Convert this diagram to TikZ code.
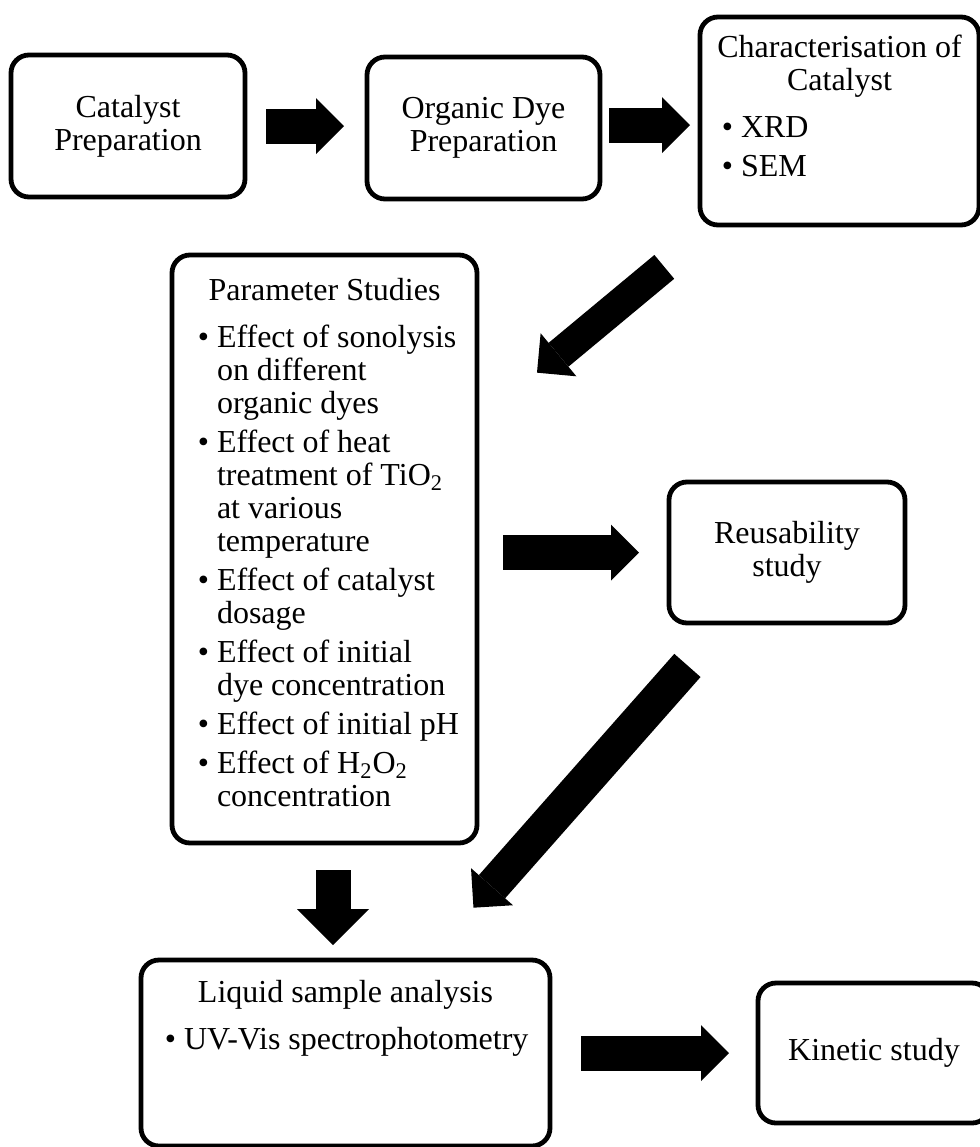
\documentclass[tikz,border=0pt]{standalone}
\usepackage{fontspec}
\setmainfont{Liberation Serif}
\usepackage{enumitem}
\usetikzlibrary{arrows.meta}
\setlist[itemize]{label=\textbullet,labelsep=4pt,topsep=7pt,partopsep=0pt,parsep=0pt,itemsep=3pt}
\newcommand{\stepbody}[4]{\parbox[c][#2][t]{#1}{\raggedright\vspace*{#3}#4}}
\tikzset{
 stepbox/.style={draw,line width=2.4pt,rounded corners=9pt,outer sep=0pt,inner sep=0pt,font=\fontsize{16pt}{16.5pt}\selectfont},
 blockarrow/.style={line width=17.5pt,-{Triangle[width=28pt,length=14pt,line width=0pt]}}
}
\begin{document}
\begin{tikzpicture}[x=0.5pt,y=-0.5pt]
 \useasboundingbox (0,0) rectangle (980,1147);
 \node[stepbox,align=center,minimum width=117pt,minimum height=71pt] (cat) at (128,126) {Catalyst\\Preparation};
 \node[stepbox,align=center,minimum width=116.5pt,minimum height=71pt] (dye) at (483.5,128) {Organic Dye\\Preparation};
 \node[stepbox,inner xsep=6pt] (char) at (839.5,121) {\stepbody{127.5pt}{104pt}{9pt}{{\centering Characterisation of\\Catalyst\par}
  \begin{itemize}[leftmargin=14.5pt]
  \item XRD
  \item SEM
  \end{itemize}}};
 \node[stepbox,inner xsep=8pt] (param) at (324.5,549) {\stepbody{136.5pt}{294pt}{11.5pt}{{\centering Parameter Studies\par}
  \begin{itemize}[leftmargin=14.5pt]
  \item Effect of sonolysis\\on different\\organic dyes
  \item Effect of heat\\treatment of TiO\textsubscript{2}\\at various\\temperature
  \item Effect of catalyst\\dosage
  \item Effect of initial\\dye concentration
  \item Effect of initial pH
  \item Effect of H\textsubscript{2}O\textsubscript{2}\\concentration
  \end{itemize}}};
 \node[stepbox,align=center,minimum width=118pt,minimum height=70.5pt] (reuse) at (787,552.5) {Reusability\\study};
 \node[stepbox,inner xsep=7pt] (liquid) at (345.5,1053) {\stepbody{190.5pt}{93pt}{10pt}{{\centering Liquid sample analysis\par}
  \begin{itemize}[leftmargin=14.5pt]
  \item UV-Vis spectrophotometry
  \end{itemize}}};
 \node[stepbox,align=center,minimum width=116pt,minimum height=70pt] (kin) at (874,1053) {Kinetic study};

 \draw[blockarrow,shorten <=10.5pt,shorten >=11.5pt] (cat.east) -- (cat.east -| dye.west);
 \draw[blockarrow,shorten <=4.5pt,shorten >=5pt] ([yshift=1.5pt]dye.east) -- ([yshift=1.5pt]dye.east -| char.west);
 \draw[blockarrow,line width=15.5pt,shorten <=32.75pt,shorten >=39pt] (char) -- (param);
 \draw[blockarrow,shorten <=13pt,shorten >=15pt] (reuse.west -| param.east) -- (reuse.west);
 \draw[blockarrow,shorten <=28.3pt,shorten >=34.9pt] (reuse) -- (liquid);
 \draw[blockarrow,-{Triangle[width=36pt,length=18pt,line width=0pt]},shorten <=13.5pt,shorten >=7.5pt] ([xshift=4.25pt]param.south) -- ([xshift=4.25pt]param.south |- liquid.north);
 \draw[blockarrow,shorten <=15.5pt,shorten >=14.5pt] (liquid.east |- kin.west) -- (kin.west);
\end{tikzpicture}
\end{document}
